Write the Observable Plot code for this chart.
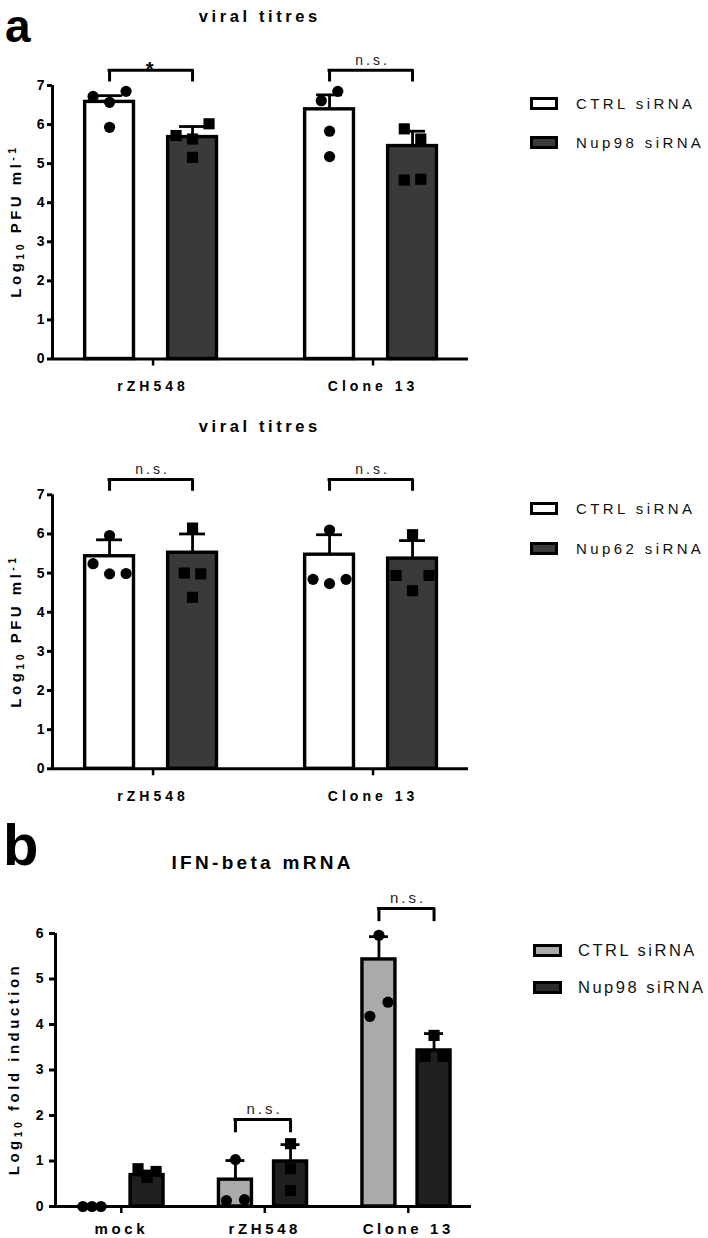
<!DOCTYPE html>
<html><head><meta charset="utf-8">
<script src="https://cdn.jsdelivr.net/npm/d3@7"></script>
<script src="https://cdn.jsdelivr.net/npm/@observablehq/plot@0.6"></script>
<style>
body{margin:0;background:#fff;}
#root{position:relative;width:708px;height:1238px;overflow:hidden;font-family:"Liberation Sans",Arial,Helvetica,sans-serif;color:#000;background:#fff}
.abs{position:absolute;white-space:nowrap;line-height:1}
.wrap{position:absolute;left:0}
.sub{font-size:70%;vertical-align:-0.25em}
.sup{font-size:70%;vertical-align:0.55em}
.box{position:absolute;box-sizing:border-box;border:3.5px solid #000}
</style>
</head><body><div id="root"></div>
<script>
// ---------------- DATA ----------------
// Panel a (top): viral titres, Nup98 knockdown
const a1Groups = ["rZH548", "Clone 13"];
const a1Series = ["CTRL siRNA", "Nup98 siRNA"];
const a1Means = [[6.58, 6.39], [5.68, 5.45]];      // [series][group]
const a1Errs  = [[0.16, 0.37], [0.27, 0.38]];
// [group, series, value, spread rank]
const a1Points = [
  [0,0,6.72,-1],[0,0,6.57,0],[0,0,5.93,0],[0,0,6.85,1],
  [0,1,5.72,-1],[0,1,5.63,0],[0,1,5.16,0],[0,1,6.02,1],
  [1,0,6.61,-0.5],[1,0,6.85,0.5],[1,0,5.83,0],[1,0,5.18,0],
  [1,1,5.89,-0.5],[1,1,5.63,0.5],[1,1,4.58,-0.5],[1,1,4.60,0.5]
];
const a1Sig = [[0,"*",7.39],[1,"n.s.",7.39]];
const a1Ticks = [0,1,2,3,4,5,6,7];

// Panel a (bottom): viral titres, Nup62 knockdown
const a2Groups = ["rZH548", "Clone 13"];
const a2Series = ["CTRL siRNA", "Nup62 siRNA"];
const a2Means = [[5.43, 5.47], [5.52, 5.37]];
const a2Errs  = [[0.42, 0.51], [0.48, 0.46]];
const a2Points = [
  [0,0,5.24,-1],[0,0,5.96,0],[0,0,4.98,0],[0,0,4.99,1],
  [0,1,6.15,0],[0,1,5.00,-0.5],[0,1,4.98,0.5],[0,1,4.38,0],
  [1,0,6.10,0],[1,0,4.84,-1],[1,0,4.73,0],[1,0,4.84,1],
  [1,1,5.98,0],[1,1,4.94,-1],[1,1,4.94,1],[1,1,4.55,0]
];
const a2Sig = [[0,"n.s.",7.39],[1,"n.s.",7.39]];
const a2Ticks = [0,1,2,3,4,5,6,7];

// Panel b: IFN-beta mRNA
const bGroups = ["mock", "rZH548", "Clone 13"];
const bSeries = ["CTRL siRNA", "Nup98 siRNA"];
const bMeans = [[0, 0.59, 5.43], [0.69, 0.99, 3.43]];
const bErrs  = [[0, 0.42, 0.50], [0.09, 0.37, 0.37]];
const bPoints = [
  [0,0,0,-1],[0,0,0,0],[0,0,0,1],
  [0,1,0.83,-1],[0,1,0.64,0],[0,1,0.77,1],
  [1,0,1.03,0],[1,0,0.13,-1],[1,0,0.15,1],
  [1,1,1.38,0],[1,1,0.83,0],[1,1,0.35,0],
  [2,0,5.96,0],[2,0,4.49,1],[2,0,4.18,-1],
  [2,1,3.76,0],[2,1,3.30,-1],[2,1,3.30,1]
];
const bSig = [[1,"n.s.",1.91],[2,"n.s.",6.55]];
const bTicks = [0,1,2,3,4,5,6];

// ---------------- DRAWING ----------------
const FONT = '"Liberation Sans", Arial, Helvetica, sans-serif';
const root = document.getElementById("root");

function addText(html, {x, baseline, fs, weight = "normal", ls = 0, align = "left", color = "#000"}) {
  const d = document.createElement("div");
  d.className = "abs";
  d.innerHTML = html;
  d.style.fontSize = fs + "px";
  d.style.fontWeight = weight;
  d.style.letterSpacing = ls + "px";
  d.style.color = color;
  d.style.top = (baseline - 0.8465 * fs) + "px";
  d.style.left = x + "px";
  if (align === "center") {
    d.style.transform = "translateX(-50%)";
    d.style.paddingLeft = ls + "px";
  }
  root.appendChild(d);
  return d;
}

function addYLabel(html, cx, cy, fs, ls) {
  const d = document.createElement("div");
  d.className = "abs";
  d.innerHTML = html;
  d.style.fontSize = fs + "px";
  d.style.fontWeight = "bold";
  d.style.letterSpacing = ls + "px";
  d.style.left = cx + "px";
  d.style.top = cy + "px";
  d.style.transform = "translate(-50%,-50%) rotate(-90deg)";
  root.appendChild(d);
}

function addLegend(series, fills, {boxX, textX, rows, fs, ls, bw, bh}) {
  series.forEach((s, i) => {
    const b = document.createElement("div");
    b.className = "box";
    b.style.left = boxX + "px";
    b.style.top = (rows[i] - bh / 2) + "px";
    b.style.width = bw + "px";
    b.style.height = bh + "px";
    b.style.background = fills[i];
    root.appendChild(b);
    addText(s, {x: textX, baseline: rows[i] + 0.36 * fs, fs, ls, color: "#111"});
  });
}

function drawPanel(cfg) {
  const {groups, series, means, errs, points, sig, fills, ticks} = cfg;
  const bars = [];
  series.forEach((s, si) => groups.forEach((g, gi) =>
    bars.push({gi, si, mean: means[si][gi], err: errs[si][gi]})));
  const cx = (gi, si) => gi + (si === 0 ? -cfg.off : cfg.off);
  const pts = points.map(([gi, si, v, c]) => ({gi, si, v, c}));
  const px = d => cx(d.gi, d.si) + d.c * cfg.col;
  const sigRows = sig.map(([gi, label, level]) => ({gi, label, level}));
  const legs = sigRows.flatMap(d => [
    {x: cx(d.gi, 0), level: d.level}, {x: cx(d.gi, 1), level: d.level}]);
  const yMax = d3.max(ticks);

  const plot = Plot.plot({
    width: 708, height: cfg.height,
    marginTop: cfg.mt, marginBottom: cfg.mb, marginLeft: cfg.ml, marginRight: cfg.mr,
    x: {type: "linear", domain: cfg.xDomain},
    y: {type: "linear", domain: [0, yMax]},
    style: {fontFamily: FONT, background: "transparent", overflow: "visible", color: "#000"},
    marks: [
      Plot.ruleX(bars, {x: d => cx(d.gi, d.si), y1: "mean", y2: d => d.mean + d.err,
        stroke: "#000", strokeWidth: 2.8}),
      Plot.ruleY(bars.filter(d => d.err > 0), {y: d => d.mean + d.err,
        x1: d => cx(d.gi, d.si) - cfg.cap, x2: d => cx(d.gi, d.si) + cfg.cap,
        stroke: "#000", strokeWidth: 2.8}),
      Plot.rectY(bars.filter(d => d.mean > 0), {x1: d => cx(d.gi, d.si) - cfg.hw, x2: d => cx(d.gi, d.si) + cfg.hw,
        y1: 0, y2: "mean", fill: d => fills[d.si], stroke: "#000", strokeWidth: 3.4}),
      Plot.ruleX([cfg.xDomain[0]], {stroke: "#000", strokeWidth: 3}),
      Plot.ruleY([0], {stroke: "#000", strokeWidth: 3}),
      Plot.axisY({ticks, tickSize: cfg.tsy, tickPadding: cfg.tpy, strokeWidth: 3,
        fontSize: 14, fontWeight: "bold", label: null, tickFormat: d => String(d)}),
      Plot.axisX({ticks: groups.map((g, i) => i), tickFormat: i => groups[i], tickSize: 7,
        tickPadding: cfg.tpx, strokeWidth: 2.5, fontSize: cfg.xfs, fontWeight: "bold",
        label: null, dx: cfg.xls / 2}),
      Plot.dot(pts.filter(d => d.si === 0), {x: px, y: "v", r: 5.6, fill: "#000", symbol: "circle"}),
      Plot.dot(pts.filter(d => d.si === 1), {x: px, y: "v", r: 6.3, fill: "#000", symbol: "square"}),
      Plot.ruleY(sigRows, {y: "level", x1: d => cx(d.gi, 0), x2: d => cx(d.gi, 1),
        stroke: "#000", strokeWidth: 3, strokeLinecap: "square"}),
      Plot.ruleX(legs, {x: "x", y1: "level", y2: d => d.level - cfg.leg,
        stroke: "#000", strokeWidth: 3}),
      Plot.text(sigRows.filter(d => d.label !== "*"), {x: d => d.gi, y: "level", text: "label",
        lineAnchor: "middle", dy: -10, dx: 1.5, fontSize: cfg.nsfs, fill: "#222"}),
      Plot.text(sigRows.filter(d => d.label === "*"), {x: d => d.gi, y: "level", text: "label",
        lineAnchor: "middle", dy: -1, fontSize: 20, fontWeight: "bold", fill: "#000"})
    ]
  });
  const s = d3.select(plot);
  s.selectAll('g[aria-label="x-axis tick label"], g[aria-label="y-axis tick label"]')
    .attr("font-weight", "bold").style("font-weight", "bold");
  s.selectAll('g[aria-label="x-axis tick label"] text').style("letter-spacing", cfg.xls + "px");
  s.selectAll('g[aria-label="text"] text').style("letter-spacing", "3px");
  const w = document.createElement("div");
  w.className = "wrap";
  w.style.top = cfg.top + "px";
  w.appendChild(plot);
  root.appendChild(w);
}

// Panel a, top
drawPanel({groups: a1Groups, series: a1Series, means: a1Means, errs: a1Errs, points: a1Points,
  sig: a1Sig, ticks: a1Ticks, fills: ["#ffffff", "#3a3a3a"],
  top: 40, height: 360, mt: 45, mb: 41.5, ml: 52, mr: 240, xDomain: [-0.448, 1.443],
  off: 0.1886, hw: 0.111, col: 0.075, cap: 0.059, leg: 0.3, tsy: 5, tpy: 3, tpx: 15,
  xfs: 14, xls: 4, nsfs: 14});
// Panel a, bottom
drawPanel({groups: a2Groups, series: a2Series, means: a2Means, errs: a2Errs, points: a2Points,
  sig: a2Sig, ticks: a2Ticks, fills: ["#ffffff", "#3a3a3a"],
  top: 449, height: 360, mt: 45.3, mb: 40.7, ml: 52, mr: 240, xDomain: [-0.448, 1.443],
  off: 0.1886, hw: 0.111, col: 0.075, cap: 0.059, leg: 0.3, tsy: 5, tpy: 3, tpx: 15,
  xfs: 14, xls: 4, nsfs: 14});
// Panel b
drawPanel({groups: bGroups, series: bSeries, means: bMeans, errs: bErrs, points: bPoints,
  sig: bSig, ticks: bTicks, fills: ["#aaaaaa", "#1f1f1f"],
  top: 880, height: 358, mt: 53, mb: 32, ml: 55, mr: 237, xDomain: [-0.446, 2.453],
  off: 0.192, hw: 0.115, col: 0.063, cap: 0.066, leg: 0.29, tsy: 6, tpy: 6, tpx: 10,
  xfs: 15, xls: 3.6, nsfs: 15});

// Panel letters and titles
addText("a", {x: 5, baseline: 42, fs: 46, weight: "bold"});
addText("b", {x: 3, baseline: 865, fs: 58, weight: "bold"});
addText("viral titres", {x: 258, baseline: 22, fs: 16.5, weight: "bold", ls: 3.6, align: "center"});
addText("viral titres", {x: 258, baseline: 432, fs: 16.5, weight: "bold", ls: 3.6, align: "center"});
addText("IFN-beta mRNA", {x: 261, baseline: 869, fs: 19, weight: "bold", ls: 3.3, align: "center"});

// Y-axis labels
addYLabel('Log<span class="sub">10</span> PFU ml<span class="sup">-1</span>', 16, 221, 15, 3.5);
addYLabel('Log<span class="sub">10</span> PFU ml<span class="sup">-1</span>', 16, 631, 15, 3.5);
addYLabel('Log<span class="sub">10</span> fold induction', 15, 1069, 15, 3.5);

// Legends
addLegend(a1Series, ["#ffffff", "#3a3a3a"], {boxX: 530, textX: 576, rows: [103, 142], fs: 15, ls: 3.4, bw: 28, bh: 13});
addLegend(a2Series, ["#ffffff", "#3a3a3a"], {boxX: 530, textX: 576, rows: [508, 548], fs: 15, ls: 3.4, bw: 28, bh: 13});
addLegend(bSeries, ["#aaaaaa", "#2a2a2a"], {boxX: 533, textX: 578, rows: [950, 987], fs: 16.5, ls: 2.5, bw: 29, bh: 13});
</script>
</body></html>
